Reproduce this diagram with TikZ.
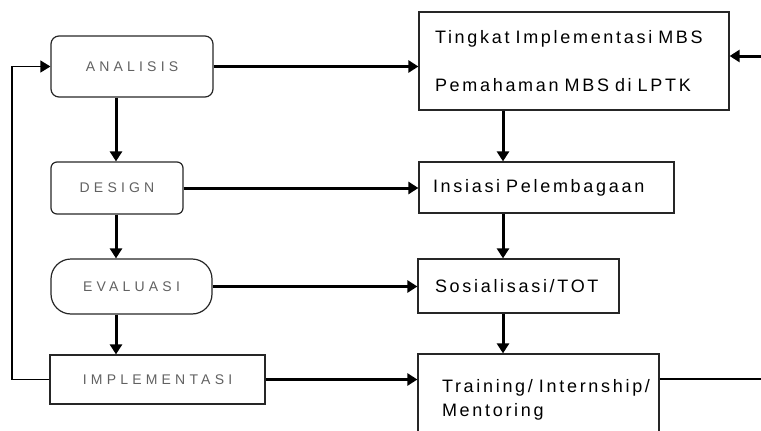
\documentclass[tikz,border=0pt]{standalone}
\usepackage{fontspec}
\setmainfont{Liberation Sans}
\newfontfamily\rightfont[LetterSpace=15,WordSpace=1.6]{Liberation Sans}
\newfontfamily\leftfont[LetterSpace=30,WordSpace=1.5]{Liberation Sans}
\usetikzlibrary{arrows.meta}
\tikzset{
  stage/.style={draw=black!85, line width=1.2pt, text=black!62,
    font=\leftfont\fontsize{14}{16}\selectfont},
  result/.style={draw=black!85, line width=1.2pt, align=left,
    font=\rightfont\fontsize{18}{21.6}\selectfont},
  link/.style={line width=3pt, -{Triangle[length=10pt,width=12pt]}},
}
\begin{document}
\begin{tikzpicture}[x=1pt,y=-1pt]
\useasboundingbox (0,0) rectangle (761,431);
\clip (0,0) rectangle (761,431);

\node (analisis) at (132,66.5) [stage, rounded corners=8pt, minimum width=162pt, minimum height=61pt] {ANALISIS};
\node (design) at (117,188) [stage, rounded corners=6pt, minimum width=132pt, minimum height=52pt] {DESIGN};
\node (evaluasi) at (131.5,286.5) [stage, rounded corners=20pt, minimum width=161pt, minimum height=55pt] {EVALUASI};
\node (implementasi) at (157.5,379.5) [stage, minimum width=215pt, minimum height=49pt] {IMPLEMENTASI};

\node (tingkat) at (574,61) [result, text width=278pt, inner xsep=16pt, minimum height=98pt] {Tingkat Implementasi MBS\\[26pt]Pemahaman MBS di LPTK};
\node (insiasi) at (546.5,187.5) [result, text width=227pt, inner xsep=14pt, minimum height=51pt] {Insiasi Pelembagaan};
\node (sosialisasi) at (518.5,286) [result, text width=167pt, inner xsep=17pt, minimum height=54pt] {Sosialisasi/TOT};
\node (training) at (538.5,400) [result, text width=193pt, inner xsep=24pt, minimum height=92pt] {\mbox{Training/ Internship/}\\[2pt]Mentoring};

\coordinate (spine) at (116,0);
\coordinate (rspine) at (503,0);
\coordinate (back) at (12,0);
\coordinate (inlet) at (761,56);
\coordinate (outlet) at (761,379);

\foreach \a/\b in {analisis/design, design/evaluasi, evaluasi/implementasi}
	\draw [link] (spine |- \a.south) -- (spine |- \b.north);
\foreach \a/\b in {tingkat/insiasi, insiasi/sosialisasi, sosialisasi/training}
	\draw [link] (rspine |- \a.south) -- (rspine |- \b.north);
\foreach \a/\b in {analisis/tingkat, design/insiasi, evaluasi/sosialisasi, implementasi/training}
	\draw [link] (\a.east) -- (\a.east -| \b.west);

\draw [line width=1.3pt, -{Triangle[length=10pt,width=12pt]}] (implementasi.west) -- (back |- implementasi.west) -- (back |- analisis.west) -- (analisis.west);
\draw [link] (inlet) -- (inlet -| tingkat.east);
\draw [line width=1.3pt] (outlet -| training.east) -- (outlet);
\end{tikzpicture}
\end{document}
